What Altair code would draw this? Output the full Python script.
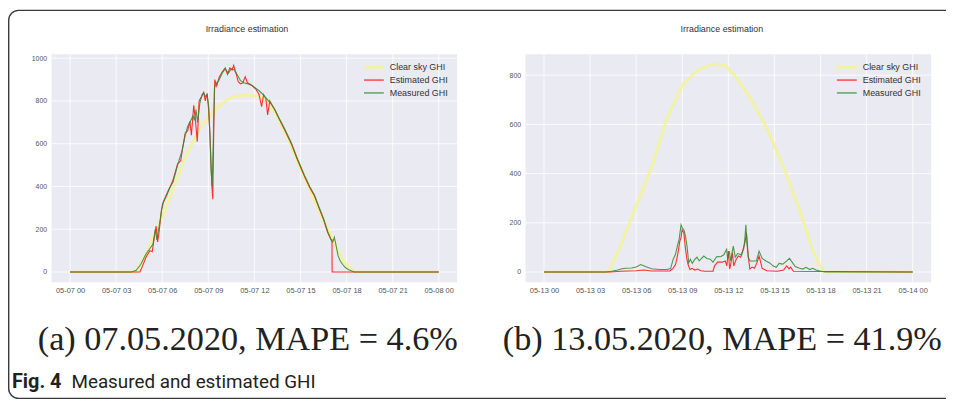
import altair as alt
import pandas as pd

# ---------------- data ----------------
X_TICKS = [0, 3, 6, 9, 12, 15, 18, 21, 24]
A_XLABELS = ['05-07 00', '05-07 03', '05-07 06', '05-07 09', '05-07 12',
             '05-07 15', '05-07 18', '05-07 21', '05-08 00']
B_XLABELS = ['05-13 00', '05-13 03', '05-13 06', '05-13 09', '05-13 12',
             '05-13 15', '05-13 18', '05-13 21', '05-14 00']
A_YTICKS = [0, 200, 400, 600, 800, 1000]
B_YTICKS = [0, 200, 400, 600, 800]
SERIES = ['Clear sky GHI', 'Estimated GHI', 'Measured GHI']
TITLE = 'Irradiance estimation'
CAPTIONS = ['(a) 07.05.2020, MAPE = 4.6%', '(b) 13.05.2020, MAPE = 41.9%']
FIG_LABEL = 'Fig. 4'
FIG_TEXT = 'Measured and estimated GHI'

# panel (a) 07.05.2020 -- hours of day / W/m2
A_CLEAR_H = [0, 4.3, 5.0, 6.0, 7.0, 7.5, 8.5, 9.25, 10.0, 10.6, 11.5, 12.4, 13.0,
             13.55, 14.2, 14.84, 15.4, 15.91, 16.5, 16.99, 17.4, 17.85, 18.5, 24]
A_CLEAR_V = [0, 0, 90, 262, 440, 535, 680, 745, 795, 820, 828, 820, 785,
             720, 620, 515, 420, 330, 240, 172, 105, 45, 0, 0]
A_EST_H = [0, 4.55, 4.7, 4.95, 5.2, 5.35, 5.5, 5.6, 5.7, 5.8, 5.95, 6.1, 6.3, 6.5, 6.7,
           7.0, 7.2, 7.35, 7.5, 7.65, 7.8, 7.9, 8.05, 8.15, 8.28, 8.4, 8.55, 8.7, 8.8,
           8.92, 9.02, 9.12, 9.22, 9.29, 9.36, 9.42, 9.55, 9.7, 9.9, 10.1, 10.25, 10.4,
           10.55, 10.65, 10.8, 10.95, 11.1, 11.25, 11.4, 11.55, 11.8, 12.1, 12.3, 12.47,
           12.6, 12.75, 12.86, 13.0, 13.33, 13.6, 14.0, 14.4, 14.8, 15.27, 15.6, 15.91,
           16.2, 16.5, 16.77, 16.99, 17.05, 17.06, 24]
A_EST_V = [0, 0, 25, 70, 100, 95, 170, 215, 140, 190, 290, 330, 360, 395, 430,
           505, 520, 590, 650, 660, 705, 640, 780, 720, 610, 800, 820, 840, 800,
           835, 760, 620, 420, 340, 700, 900, 870, 910, 935, 955, 925, 955,
           945, 967, 930, 890, 880, 885, 913, 885, 875, 855, 830, 773,
           830, 810, 735, 800, 758, 718, 660, 600, 525, 445, 395, 355,
           300, 245, 185, 152, 150, 0, 0]
A_MEAS_H = [0, 4.0, 4.3, 4.6, 4.95, 5.2, 5.4, 5.55, 5.65, 5.8, 5.9, 6.02, 6.2, 6.45, 6.7,
            7.0, 7.3, 7.5, 7.65, 7.8, 8.0, 8.1, 8.2, 8.3, 8.45, 8.6, 8.7, 8.8, 8.92, 9.02,
            9.1, 9.18, 9.25, 9.32, 9.4, 9.5, 9.68, 9.9, 10.1, 10.3, 10.5, 10.7, 10.9, 11.1,
            11.3, 11.6, 11.9, 12.26, 12.5, 12.7, 13.0, 13.33, 13.6, 14.0, 14.4, 14.8,
            15.27, 15.6, 15.91, 16.2, 16.5, 16.77, 16.99, 17.1, 17.2, 17.3, 17.45, 17.6,
            17.75, 17.9, 18.1, 18.5, 24]
A_MEAS_V = [0, 0, 8, 35, 85, 110, 130, 200, 150, 215, 260, 320, 350, 390, 420,
            500, 570, 640, 680, 700, 730, 710, 760, 700, 790, 830, 838, 820, 830, 780,
            650, 480, 400, 600, 860, 880, 895, 930, 950, 930, 950, 945, 920, 895,
            885, 880, 870, 850, 835, 818, 795, 760, 720, 665, 605, 530,
            450, 400, 360, 305, 250, 190, 150, 140, 162, 130, 75, 50,
            35, 22, 12, 0, 0]

# panel (b) 13.05.2020
B_CLEAR_H = [0, 4.2, 4.8, 5.5, 6.0, 7.0, 8.0, 9.0, 10.0, 10.6, 11.2, 11.8, 12.4,
             13.4, 14.5, 15.6, 16.7, 17.5, 18.2, 24]
B_CLEAR_V = [0, 0, 80, 190, 270, 425, 625, 760, 820, 838, 845, 838, 800,
             710, 585, 425, 240, 85, 0, 0]
B_EST_H = [0, 4.3, 5.0, 6.0, 6.5, 7.0, 8.2, 8.4, 8.56, 8.7, 8.84, 8.92, 8.99, 9.1, 9.2,
           9.3, 9.38, 9.5, 9.65, 9.8, 10.0, 10.2, 10.5, 11.0, 11.1, 11.3, 11.6, 11.8,
           11.9, 12.0, 12.08, 12.15, 12.26, 12.35, 12.5, 12.65, 12.8, 12.95, 13.08,
           13.18, 13.3, 13.4, 13.55, 13.7, 13.87, 14.0, 14.1, 14.2, 14.5, 15.2, 15.6,
           15.8, 15.95, 16.05, 16.24, 24]
B_EST_V = [0, 0, 3, 5, 8, 4, 4, 15, 30, 70, 125, 140, 172, 160, 100,
           52, 30, 10, 15, 8, 12, 5, 3, 3, 25, 40, 40, 45,
           25, 85, 12, 30, 79, 25, 50, 65, 60, 90, 119,
           159, 60, 12, 20, 15, 39, 65, 40, 15, 5, 3, 8,
           25, 13, 20, 3, 0]
B_MEAS_H = [0, 4.0, 4.4, 4.8, 5.0, 5.3, 5.7, 6.0, 6.3, 6.6, 7.0, 7.5, 8.0, 8.24, 8.4,
            8.56, 8.7, 8.8, 8.92, 9.0, 9.1, 9.2, 9.31, 9.42, 9.53, 9.65, 9.8, 9.96, 10.1,
            10.4, 10.6, 10.82, 11.0, 11.25, 11.5, 11.7, 11.89, 11.95, 12.06, 12.15,
            12.32, 12.45, 12.6, 12.86, 13.0, 13.07, 13.14, 13.22, 13.3, 13.4, 13.6,
            13.83, 14.0, 14.2, 14.45, 14.69, 14.9, 15.12, 15.3, 15.55, 15.8, 15.98,
            16.15, 16.35, 16.63, 16.85, 17.05, 17.3, 17.5, 17.7, 17.9, 18.13, 18.3, 24]
B_MEAS_V = [0, 0, 3, 8, 12, 15, 16, 20, 30, 22, 13, 10, 10, 14, 50,
            72, 110, 135, 192, 180, 172, 150, 105, 37, 52, 35, 50, 60, 45,
            65, 55, 52, 40, 63, 62, 70, 92, 55, 85, 45,
            105, 60, 75, 70, 95, 132, 192, 110, 60, 45, 45,
            45, 85, 55, 45, 37, 25, 19, 35, 32, 45, 56,
            40, 22, 15, 12, 19, 10, 15, 8, 5, 2, 0, 0]

# ---------------- layout / style ----------------
W, H = 946, 393
XDOM = [-1.2, 25.2]
A_YDOM = [-48.5, 1018.5]
B_YDOM = [-42, 885]
BG = '#EAEAF2'
LABEL_FONT = 'Liberation Sans'
STYLE = {
    'Clear sky GHI': dict(color='#f3f39c', strokeWidth=3, opacity=0.9),
    'Estimated GHI': dict(color='#ff1a1a', strokeWidth=1.1, opacity=0.9),
    'Measured GHI': dict(color='#2f8a2f', strokeWidth=1.1, opacity=0.85),
}


def panel(xlabels, yticks, ydom, xr, yr, series, legend_x, title_x):
    sx = alt.Scale(domain=XDOM, range=xr, nice=False, zero=False)
    sy = alt.Scale(domain=ydom, range=yr, nice=False, zero=False)
    expr = '[' + ','.join("'%s'" % s for s in xlabels) + '][round(datum.value/3)]'
    ax = alt.Axis(orient='bottom', offset=yr[0] - H, values=X_TICKS, labelExpr=expr,
                  grid=False, ticks=False, domain=False, labelPadding=4,
                  labelFontSize=7.5, labelColor='#555555', labelFont=LABEL_FONT,
                  title=None, labelOverlap=False)
    ay = alt.Axis(orient='left', offset=-xr[0], values=yticks, format='d',
                  grid=False, ticks=False, domain=False, labelPadding=5,
                  labelFontSize=7, labelColor='#555555', labelFont=LABEL_FONT,
                  title=None)

    def X(f):
        return alt.X(f, scale=sx, axis=ax)

    def Y(f):
        return alt.Y(f, scale=sy, axis=ay)

    bg = alt.Chart(pd.DataFrame({'h': [XDOM[0]], 'h2': [XDOM[1]],
                                 'v': [ydom[0]], 'v2': [ydom[1]]})).mark_rect(
        fill=BG).encode(x=X('h:Q'), x2='h2:Q', y=Y('v:Q'), y2='v2:Q')
    vgrid = alt.Chart(pd.DataFrame({'h': X_TICKS, 'v': ydom[0], 'v2': ydom[1]})).mark_rule(
        color='white', strokeWidth=0.8).encode(x=X('h:Q'), y=Y('v:Q'), y2='v2:Q')
    hgrid = alt.Chart(pd.DataFrame({'v': yticks, 'h': XDOM[0], 'h2': XDOM[1]})).mark_rule(
        color='white', strokeWidth=0.8).encode(x=X('h:Q'), x2='h2:Q', y=Y('v:Q'))
    layers = [bg, vgrid, hgrid]
    for name, (hs, vs) in zip(SERIES, series):
        df = pd.DataFrame({'h': hs, 'v': vs})
        layers.append(alt.Chart(df).mark_line(**STYLE[name]).encode(
            x=X('h:Q'), y=Y('v:Q'), order='h:Q'))
    # legend (upper right, inside the axes)
    for i, name in enumerate(SERIES):
        ly = 58 + 13 * i
        st = STYLE[name]
        layers.append(alt.Chart(pd.DataFrame({'k': [0]})).mark_rule(
            color=st['color'], strokeWidth=max(st['strokeWidth'], 1.3),
            opacity=st['opacity']).encode(
            x=alt.value(legend_x), x2=alt.value(legend_x + 20), y=alt.value(ly)))
        layers.append(alt.Chart(pd.DataFrame({'k': [0]})).mark_text(
            text=name, align='left', baseline='middle', fontSize=9,
            font=LABEL_FONT, color='#333333').encode(
            x=alt.value(legend_x + 26), y=alt.value(ly)))
    layers.append(alt.Chart(pd.DataFrame({'k': [0]})).mark_text(
        text=TITLE, align='center', baseline='middle', fontSize=9,
        font=LABEL_FONT, color='#333333').encode(x=alt.value(title_x), y=alt.value(20)))
    return alt.layer(*layers)


panel_a = panel(A_XLABELS, A_YTICKS, A_YDOM, [44, 453], [275, 45],
                [(A_CLEAR_H, A_CLEAR_V), (A_EST_H, A_EST_V), (A_MEAS_H, A_MEAS_V)],
                359, 241)
panel_b = panel(B_XLABELS, B_YTICKS, B_YDOM, [522, 931], [275, 45],
                [(B_CLEAR_H, B_CLEAR_V), (B_EST_H, B_EST_V), (B_MEAS_H, B_MEAS_V)],
                836, 720)

one = pd.DataFrame({'k': [0]})
cap_a = alt.Chart(one).mark_text(text=CAPTIONS[0], align='left', baseline='alphabetic',
                                 font='Liberation Serif', fontSize=34.5, color='#222222').encode(
    x=alt.value(30), y=alt.value(343))
cap_b = alt.Chart(one).mark_text(text=CAPTIONS[1], align='left', baseline='alphabetic',
                                 font='Liberation Serif', fontSize=34.5, color='#222222').encode(
    x=alt.value(499), y=alt.value(343))
fig_l = alt.Chart(one).mark_text(text=FIG_LABEL, align='left', baseline='alphabetic',
                                 font='Roboto', fontWeight='bold', fontSize=20,
                                 color='#231f20').encode(x=alt.value(4), y=alt.value(382))
fig_t = alt.Chart(one).mark_text(text=FIG_TEXT, align='left', baseline='alphabetic',
                                 font='Roboto', fontSize=19, color='#231f20').encode(
    x=alt.value(64), y=alt.value(382))
border = alt.Chart(one).mark_rect(fillOpacity=0, stroke='#3a3a3a', strokeWidth=1.4,
                                  cornerRadius=10).encode(
    x=alt.value(0.7), x2=alt.value(990), y=alt.value(0.7), y2=alt.value(392))

chart = alt.layer(panel_a, panel_b, cap_a, cap_b, fig_l, fig_t, border).resolve_scale(
    x='independent', y='independent').properties(
    width=W, height=H, padding=0, autosize=alt.AutoSizeParams(type='none')
).configure_view(stroke=None)

chart.save('out.html', embed_options={'renderer': 'svg', 'actions': False})
